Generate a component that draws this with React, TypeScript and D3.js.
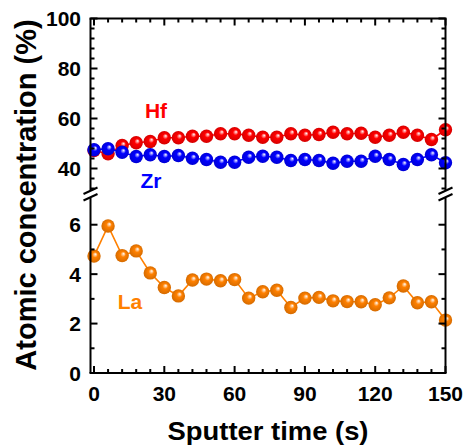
import React from 'react';
import * as d3 from 'd3';

const TIMES = d3.range(0, 151, 6);
const HF = [47.2, 45.9, 49.2, 50.3, 50.8, 52.3, 52.3, 52.9, 52.9, 53.9, 53.9, 53.3, 52.5, 52.5, 53.9, 53.3, 53.6, 54.5, 53.9, 54.1, 52.5, 53.3, 54.5, 53.3, 51.6, 55.5];
const ZR = [47.5, 47.9, 46.5, 44.8, 45.5, 44.8, 45.2, 44.1, 43.6, 42.5, 42.5, 44.5, 44.9, 44.5, 43.2, 43.6, 43.2, 42.1, 42.9, 42.9, 44.9, 43.6, 41.6, 43.6, 45.5, 42.3];
const LA = [4.73, 5.95, 4.75, 4.94, 4.05, 3.46, 3.12, 3.76, 3.8, 3.73, 3.78, 3.03, 3.29, 3.35, 2.65, 3.03, 3.06, 2.92, 2.89, 2.88, 2.76, 3.04, 3.52, 2.84, 2.88, 2.14];

const X_TICKS = [0, 30, 60, 90, 120, 150];
const UPPER_TICKS = [40, 60, 80, 100];
const LOWER_TICKS = [0, 2, 4, 6];

const FONT = 'Liberation Sans, Arial, sans-serif';

const x = d3.scaleLinear().domain([-1.5, 150]).range([90.5, 445.5]);
const yUp = d3.scaleLinear().domain([30, 100]).range([193.5, 18.5]);
const yLo = d3.scaleLinear().domain([0, 7]).range([373, 200]);

const L = 90.5, R = 445.5, T = 18.5, B = 373;

function Series({ vals, y, color, id }: { vals: number[]; y: any; color: string; id: string }) {
  const pts = vals.map((v, i) => [x(TIMES[i]), y(v)] as [number, number]);
  const line = d3.line()(pts) || '';
  return (
    <g>
      <defs>
        <radialGradient id={id} cx="0.5" cy="0.5" r="0.5" fx="0.62" fy="0.35">
          <stop offset="0" stopColor="#fff" />
          <stop offset="0.4" stopColor={color} />
          <stop offset="1" stopColor={d3.color(color)!.darker(0.5).toString()} />
        </radialGradient>
      </defs>
      <path d={line} fill="none" stroke={color} strokeWidth={1.6} />
      {pts.map((p, i) => (
        <circle key={i} cx={p[0]} cy={p[1]} r={6.7} fill={`url(#${id})`} />
      ))}
    </g>
  );
}

export default function App() {
  const xMinor = d3.range(0, 151, 6);
  const upMinor = d3.range(32, 101, 4);
  const loMinor = d3.range(0, 7, 1);

  const hTick = (yy: number, len: number, key: string) => (
    <g key={key}>
      <line x1={L} x2={L + len} y1={yy} y2={yy} stroke="#000" strokeWidth={2} />
      <line x1={R} x2={R - len} y1={yy} y2={yy} stroke="#000" strokeWidth={2} />
    </g>
  );

  const brk = (cx: number, key: string) => (
    <g key={key}>
      <line x1={cx} x2={cx} y1={T} y2={190.5} stroke="#000" strokeWidth={2} />
      <line x1={cx} x2={cx} y1={198} y2={B} stroke="#000" strokeWidth={2} />
      <line x1={cx - 7} y1={194} x2={cx + 7} y2={187.5} stroke="#000" strokeWidth={2} />
      <line x1={cx - 7} y1={200.5} x2={cx + 7} y2={194} stroke="#000" strokeWidth={2} />
    </g>
  );

  return (
    <svg width={467} height={447} style={{ position: 'absolute', left: 0, top: 0 }} fontFamily={FONT} fontWeight="bold">
      <rect width={467} height={447} fill="#fff" />

      <Series vals={HF} y={yUp} color="#ff0000" id="gHf" />
      <Series vals={ZR} y={yUp} color="#0000ff" id="gZr" />
      <Series vals={LA} y={yLo} color="#ff8000" id="gLa" />

      {/* frame */}
      <line x1={L - 1} x2={R + 1} y1={T} y2={T} stroke="#000" strokeWidth={2} />
      <line x1={L - 1} x2={R + 1} y1={B} y2={B} stroke="#000" strokeWidth={2} />
      {brk(L, 'bl')}
      {brk(R, 'br')}

      {/* x ticks */}
      {xMinor.map(t => {
        const len = t % 30 === 0 ? 7 : 4;
        return (
          <g key={'x' + t}>
            <line x1={x(t)} x2={x(t)} y1={B} y2={B - len} stroke="#000" strokeWidth={2} />
            <line x1={x(t)} x2={x(t)} y1={T} y2={T + len} stroke="#000" strokeWidth={2} />
          </g>
        );
      })}
      {/* y ticks */}
      {upMinor.map(t => hTick(yUp(t), t % 20 === 0 ? 7 : 4, 'u' + t))}
      {loMinor.map(t => hTick(yLo(t), t % 2 === 0 ? 7 : 4, 'l' + t))}

      {X_TICKS.map(t => (
        <text key={'xl' + t} x={x(t)} y={401} textAnchor="middle" fontSize={21}>{t}</text>
      ))}
      {UPPER_TICKS.map(t => (
        <text key={'ul' + t} x={81} y={yUp(t) + 7.5} textAnchor="end" fontSize={21}>{t}</text>
      ))}
      {LOWER_TICKS.map(t => (
        <text key={'ll' + t} x={81} y={yLo(t) + 7.5} textAnchor="end" fontSize={21}>{t}</text>
      ))}

      <text x={156} y={118} textAnchor="middle" fontSize={21} fill="#ff0000">Hf</text>
      <text x={151} y={188} textAnchor="middle" fontSize={21} fill="#0000ff">Zr</text>
      <text x={130} y={309} textAnchor="middle" fontSize={21} fill="#ff8000">La</text>

      <text x={268} y={440} textAnchor="middle" fontSize={26} textLength={201} lengthAdjust="spacingAndGlyphs">Sputter time (s)</text>
      <text transform="translate(36,195) rotate(-90)" textAnchor="middle" fontSize={29}>Atomic concentration (%)</text>
    </svg>
  );
}
